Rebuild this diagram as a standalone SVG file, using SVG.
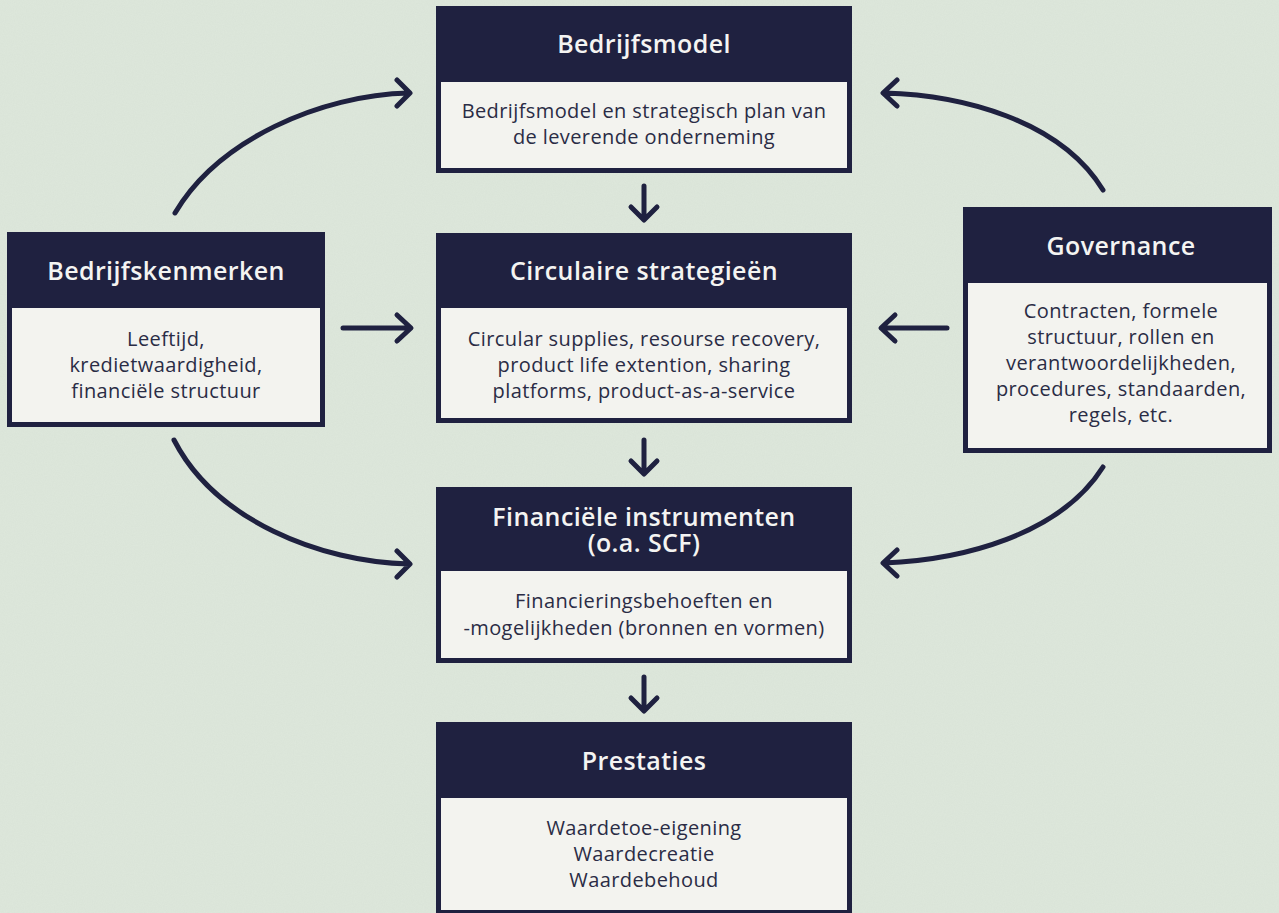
<svg xmlns="http://www.w3.org/2000/svg" width="1279" height="913" viewBox="0 0 1279 913">
  <defs>
    <style>
      .frame { fill: #1f2140; }
      .panel { fill: #f3f3ef; }
      .title { font-family: "Open Sans", "Liberation Sans", sans-serif; font-weight: 600; font-size: 25px; letter-spacing: 0.4px; fill: #f4f4f2; text-anchor: middle; }
      .body { font-family: "Open Sans", "Liberation Sans", sans-serif; font-weight: 400; font-size: 20px; letter-spacing: 0.4px; fill: #2a2c45; text-anchor: middle; }
      .link { fill: none; stroke: #1f2140; stroke-width: 5; stroke-linecap: round; stroke-linejoin: round; }
    </style>
    <filter id="grain" x="0" y="0" width="100%" height="100%">
      <feTurbulence type="fractalNoise" baseFrequency="0.9" numOctaves="2" seed="4" result="n"/>
      <feColorMatrix in="n" type="matrix" values="0 0 0 0 0.45  0 0 0 0 0.5  0 0 0 0 0.45  0 0 0 0.12 0"/>
    </filter>
  </defs>

  <!-- paper background -->
  <rect width="1279" height="913" fill="#dee8dc"/>
  <rect width="1279" height="913" filter="url(#grain)"/>

  <!-- connectors -->
  <g id="connectors">
    <!-- vertical flow down the centre column -->
    <path class="link" d="M644,186 V219 M631,207 L644,220 L657,207"/>
    <path class="link" d="M644,440 V473 M631,461 L644,474 L657,461"/>
    <path class="link" d="M644,677 V710 M631,698 L644,711 L657,698"/>
    <!-- straight side inputs -->
    <path class="link" d="M343,328 H410 M397,315 L411,328 L397,341"/>
    <path class="link" d="M947,328 H882 M895,315 L881,328 L895,341"/>
    <!-- curved side inputs -->
    <path class="link" d="M175,213 C218,140 320,95 409,93 M397,80 L410,93 L397,106"/>
    <path class="link" d="M1103,190 C1060,120 962,95 884,93 M897,80 L883,93 L897,106"/>
    <path class="link" d="M174,440 C215,520 320,562 409,564 M397,551 L410,564 L397,577"/>
    <path class="link" d="M1103,467 C1060,535 962,560 884,563 M897,550 L883,563 L897,576"/>
  </g>

  <g id="bedrijfsmodel">
    <rect class="frame" x="436" y="6" width="416" height="167"/>
    <rect class="panel" x="441" y="82" width="406" height="86"/>
    <text class="title" x="644" y="53">Bedrijfsmodel</text>
    <text class="body" x="644" y="118">Bedrijfsmodel en strategisch plan van</text>
    <text class="body" x="644" y="144">de leverende onderneming</text>
  </g>

  <g id="bedrijfskenmerken">
    <rect class="frame" x="7" y="232" width="318" height="195"/>
    <rect class="panel" x="12" y="308" width="308" height="114"/>
    <text class="title" x="166" y="280">Bedrijfskenmerken</text>
    <text class="body" x="166" y="346">Leeftijd,</text>
    <text class="body" x="166" y="372">kredietwaardigheid,</text>
    <text class="body" x="166" y="398">financiële structuur</text>
  </g>

  <g id="circulaire-strategieen">
    <rect class="frame" x="436" y="233" width="416" height="190"/>
    <rect class="panel" x="441" y="308" width="406" height="110"/>
    <text class="title" x="644" y="280">Circulaire strategieën</text>
    <text class="body" x="644" y="346">Circular supplies, resourse recovery,</text>
    <text class="body" x="644" y="372">product life extention, sharing</text>
    <text class="body" x="644" y="398">platforms, product-as-a-service</text>
  </g>

  <g id="governance">
    <rect class="frame" x="963" y="207" width="309" height="246"/>
    <rect class="panel" x="968" y="283" width="299" height="165"/>
    <text class="title" x="1121" y="255">Governance</text>
    <text class="body" x="1121" y="318">Contracten, formele</text>
    <text class="body" x="1121" y="344">structuur, rollen en</text>
    <text class="body" x="1121" y="370">verantwoordelijkheden,</text>
    <text class="body" x="1121" y="396">procedures, standaarden,</text>
    <text class="body" x="1121" y="422">regels, etc.</text>
  </g>

  <g id="financiele-instrumenten">
    <rect class="frame" x="436" y="487" width="416" height="176"/>
    <rect class="panel" x="441" y="571" width="406" height="87"/>
    <text class="title" x="644" y="526">Financiële instrumenten<tspan x="644" dy="26">(o.a. SCF)</tspan></text>
    <text class="body" x="644" y="608">Financieringsbehoeften en</text>
    <text class="body" x="644" y="635">-mogelijkheden (bronnen en vormen)</text>
  </g>

  <g id="prestaties">
    <rect class="frame" x="436" y="722" width="416" height="195"/>
    <rect class="panel" x="441" y="798" width="406" height="112"/>
    <text class="title" x="644" y="770">Prestaties</text>
    <text class="body" x="644" y="835">Waardetoe-eigening</text>
    <text class="body" x="644" y="861">Waardecreatie</text>
    <text class="body" x="644" y="887">Waardebehoud</text>
  </g>
</svg>
